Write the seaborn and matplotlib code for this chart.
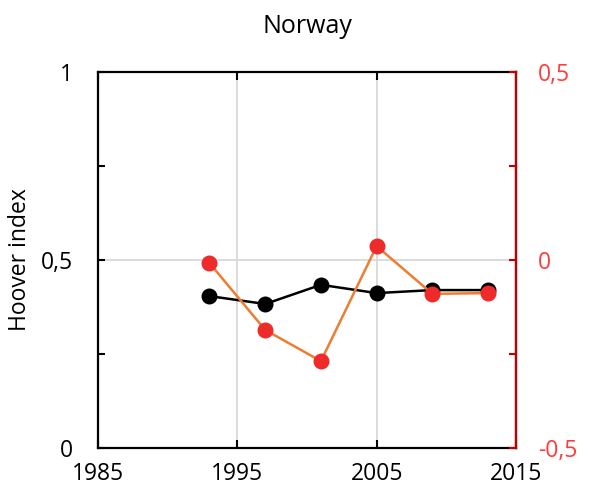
import matplotlib
matplotlib.use("Agg")
import matplotlib.pyplot as plt
import pandas as pd
import seaborn as sns
from matplotlib.ticker import FixedLocator, MultipleLocator, FuncFormatter

years = [1993, 1997, 2001, 2005, 2009, 2013]
hoover = [0.404, 0.383, 0.434, 0.412, 0.420, 0.420]
change = [-0.008, -0.186, -0.269, 0.037, -0.090, -0.088]
year_ticks = [1985, 1995, 2005, 2015]

sns.set_style("white")
plt.rcParams["font.family"] = ["Open Sans", "DejaVu Sans"]
plt.rcParams["text.color"] = "black"
plt.rcParams["axes.labelcolor"] = "black"
plt.rcParams["xtick.color"] = "black"
plt.rcParams["ytick.color"] = "black"

df = pd.DataFrame({"year": years, "hoover": hoover, "change": change})

fig = plt.figure(figsize=(5.89, 4.96), dpi=100)
ax = fig.add_axes([0.1664, 0.0968, 0.7096, 0.758])
ax2 = ax.twinx()

sns.lineplot(data=df, x="year", y="hoover", ax=ax, color="black", lw=1.8,
             marker="o", markersize=11.5, markeredgewidth=0, zorder=3)
sns.lineplot(data=df, x="year", y="change", ax=ax2, color="#ED7D31", lw=1.8,
             marker="o", markersize=11.5, markerfacecolor="#EE2A2A",
             markeredgewidth=0, zorder=3)

comma = FuncFormatter(lambda v, p: ("%g" % v).replace(".", ","))
fs = 16.5

ax.set_xlim(1985, 2015)
ax.set_ylim(0, 1)
ax.xaxis.set_major_locator(FixedLocator(year_ticks))
ax.yaxis.set_major_locator(MultipleLocator(0.5))
ax.yaxis.set_minor_locator(MultipleLocator(0.25))
ax.yaxis.set_major_formatter(comma)
ax.grid(True, which="major", color="#D9D9D9", lw=1.3)
ax.set_axisbelow(True)
ax.tick_params(axis="x", which="major", direction="in", length=6, width=1.5,
               top=True, bottom=True, labelsize=fs, pad=10)
ax.tick_params(axis="y", which="both", direction="in", length=5, width=1.5,
               left=True, labelsize=fs, pad=18)
for s in ax.spines.values():
    s.set_color("black")
    s.set_linewidth(1.6)
ax.set_xlabel("")
ax.set_ylabel("Hoover index", fontsize=16.5)
ax.yaxis.set_label_coords(-0.158, 0.5)
ax.set_title("Norway", fontsize=18, pad=28)

ax2.set_ylim(-0.5, 0.5)
ax2.yaxis.set_major_locator(MultipleLocator(0.5))
ax2.yaxis.set_minor_locator(MultipleLocator(0.25))
ax2.yaxis.set_major_formatter(comma)
ax2.tick_params(axis="y", which="both", direction="in", length=5, width=1.5,
                color="#C00000", labelcolor="#FF3B3B", labelsize=fs, pad=16)
ax2.spines["right"].set_color("#C00000")
ax2.spines["right"].set_linewidth(1.6)
for side in ["top", "bottom", "left"]:
    ax2.spines[side].set_visible(False)
ax2.set_ylabel("")
ax2.grid(False)

fig.savefig("out.png", dpi=100)
